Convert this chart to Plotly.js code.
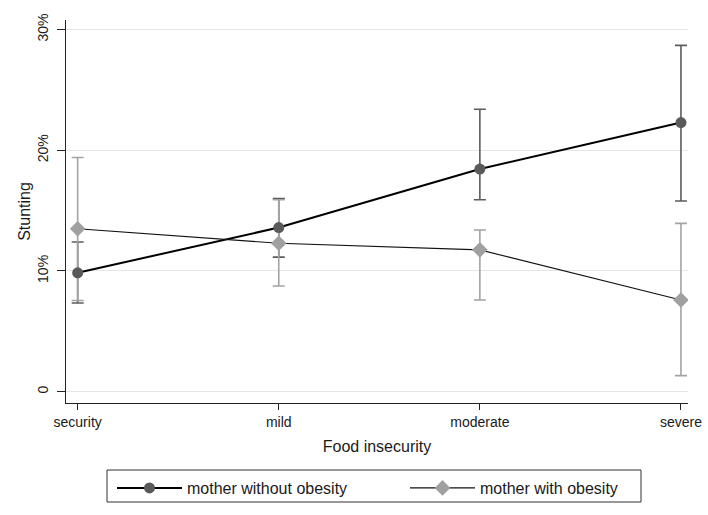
<!DOCTYPE html>
<html>
<head>
<meta charset="utf-8">
<script src="https://cdn.plot.ly/plotly-3.0.1.min.js"></script>
<style>html,body{margin:0;padding:0;background:#fff;}#chart{width:708px;height:515px;}</style>
</head>
<body>
<div id="chart"></div>
<script>
const categories = ["security", "mild", "moderate", "severe"];
const seriesNames = ["mother without obesity", "mother with obesity"];
const noObesity = [9.85, 13.6, 18.45, 22.3];
const noObesityHigh = [12.4, 16.0, 23.4, 28.7];
const noObesityLow = [7.35, 11.15, 15.9, 15.8];
const obesity = [13.5, 12.3, 11.75, 7.6];
const obesityHigh = [19.4, 15.9, 13.4, 13.95];
const obesityLow = [7.55, 8.75, 7.6, 1.33];
const yTickVals = [0, 10, 20, 30];
const yTickText = ["0", "10%", "20%", "30%"];

function errTrace(y, hi, lo, color) {
  return {
    x: categories, y: y, type: "scatter", mode: "markers",
    marker: {size: 1, color: "rgba(0,0,0,0)"},
    error_y: {type: "data", symmetric: false,
      array: hi.map((h, i) => h - y[i]),
      arrayminus: lo.map((l, i) => y[i] - l),
      color: color, thickness: 1.6, width: 6},
    showlegend: false, hoverinfo: "skip"
  };
}

const traces = [
  errTrace(noObesity, noObesityHigh, noObesityLow, "#5c5c5c"),
  errTrace(obesity, obesityHigh, obesityLow, "#a3a3a3"),
  {x: categories, y: noObesity, name: seriesNames[0], type: "scatter", mode: "lines+markers",
   line: {color: "#000000", width: 2}, marker: {symbol: "circle", size: 11, color: "#5a5a5a"}},
  {x: categories, y: obesity, name: seriesNames[1], type: "scatter", mode: "lines+markers",
   line: {color: "#111111", width: 1.1}, marker: {symbol: "diamond", size: 12, color: "#a0a0a0"}}
];

const layout = {
  width: 708, height: 515,
  margin: {l: 66, r: 20, t: 20, b: 112, autoexpand: false},
  paper_bgcolor: "#ffffff", plot_bgcolor: "#ffffff",
  font: {family: "Liberation Sans, Arial, sans-serif", color: "#1a1a1a"},
  xaxis: {
    type: "category", range: [-0.058, 3.035],
    showline: true, linecolor: "#222", linewidth: 1,
    ticks: "outside", ticklen: 6, tickcolor: "#222",
    showgrid: false, zeroline: false,
    tickfont: {size: 14},
    title: {text: "Food insecurity", font: {size: 16}, standoff: 12}
  },
  yaxis: {
    range: [-0.94, 30.8],
    tickvals: yTickVals, ticktext: yTickText, tickangle: -90,
    showline: true, linecolor: "#222", linewidth: 1,
    ticks: "outside", ticklen: 8, tickcolor: "#222",
    ticklabelstandoff: 3,
    showgrid: true, gridcolor: "#e6e6e6", gridwidth: 1, zeroline: false,
    tickfont: {size: 14},
    title: {text: "Stunting", font: {size: 16}, standoff: 0}
  },
  showlegend: true,
  legend: {
    orientation: "h", xref: "container", yref: "container",
    x: 112 / 708, y: 1 - 471 / 515, xanchor: "left", yanchor: "top",
    borderwidth: 0, bgcolor: "rgba(0,0,0,0)",
    font: {size: 16}, itemwidth: 65, entrywidth: 213, traceorder: "normal"
  },
  shapes: [{type: "rect", xref: "paper", yref: "paper",
    x0: (107 - 66) / 622, x1: (641 - 66) / 622, y0: (403 - 470) / 383, y1: (403 - 502) / 383,
    line: {color: "#333", width: 1}, fillcolor: "rgba(0,0,0,0)"}]
};

Plotly.newPlot("chart", traces, layout, {displayModeBar: false, staticPlot: true});
</script>
</body>
</html>
